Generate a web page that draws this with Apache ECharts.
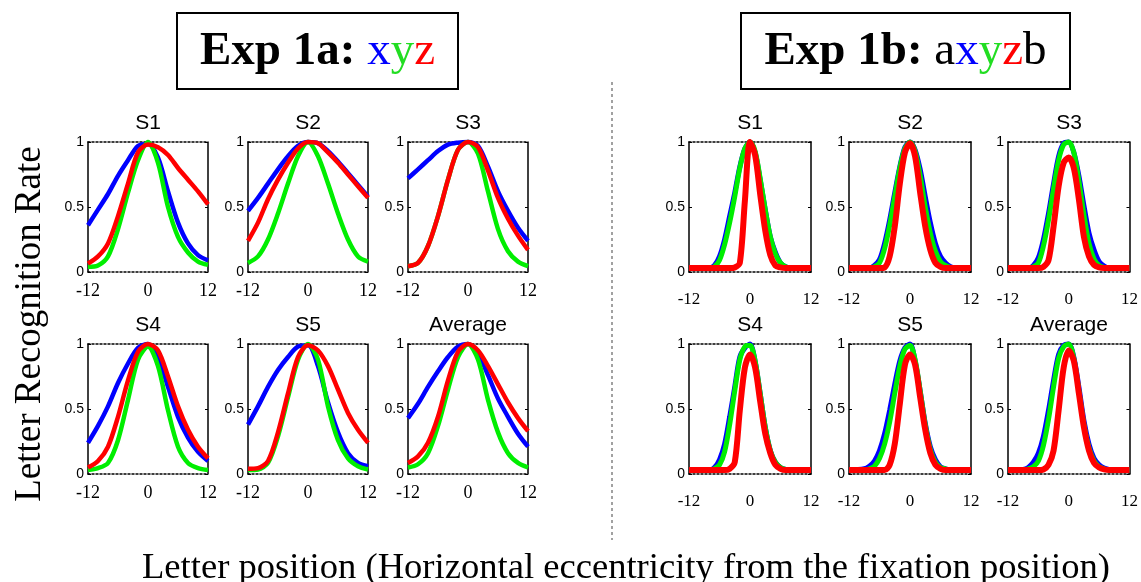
<!DOCTYPE html>
<html>
<head>
<meta charset="utf-8">
<script src="https://cdn.jsdelivr.net/npm/echarts@6/dist/echarts.min.js"></script>
<style>
html,body{margin:0;padding:0;background:#fff}
#chart{width:1141px;height:582px}
</style>
</head>
<body>
<div id="chart"></div>
<script>
// letter positions (eccentricity), sampled
var xA = [-12,-10,-8,-6,-4,-2,0,2,4,6,8,10,12];
var xB = [-12,-9,-8,-7,-6,-5,-4,-3,-2,-1,0,1,2,3,4,5,6,7,8,9,12];
var panelNames = ['S1','S2','S3','S4','S5','Average'];

// Exp 1a: x (blue), y (green), z (red)
var a_S1_blue  = [0.36,0.48,0.60,0.74,0.86,0.97,0.985,0.88,0.62,0.38,0.22,0.13,0.09];
var a_S1_green = [0.04,0.05,0.12,0.33,0.61,0.86,1.00,0.84,0.50,0.27,0.15,0.08,0.055];
var a_S1_red   = [0.065,0.12,0.22,0.43,0.68,0.92,0.98,0.96,0.90,0.80,0.71,0.62,0.52];
var a_S2_blue  = [0.47,0.57,0.68,0.79,0.89,0.97,1.00,0.99,0.93,0.85,0.76,0.67,0.58];
var a_S2_green = [0.07,0.12,0.25,0.45,0.68,0.89,1.00,0.89,0.68,0.45,0.25,0.12,0.08];
var a_S2_red   = [0.24,0.38,0.56,0.71,0.84,0.95,1.00,0.99,0.92,0.84,0.75,0.66,0.57];
var a_S3_blue  = [0.72,0.79,0.86,0.93,0.98,0.995,1.00,0.97,0.81,0.62,0.47,0.34,0.24];
var a_S3_green = [0.045,0.07,0.20,0.43,0.71,0.94,1.00,0.91,0.62,0.33,0.16,0.08,0.045];
var a_S3_red   = [0.045,0.07,0.20,0.43,0.71,0.94,1.00,0.96,0.78,0.57,0.41,0.28,0.17];
var a_S4_blue  = [0.24,0.37,0.52,0.70,0.85,0.97,1.00,0.90,0.67,0.44,0.28,0.17,0.10];
var a_S4_green = [0.03,0.045,0.085,0.26,0.57,0.88,0.98,0.83,0.49,0.21,0.085,0.045,0.03];
var a_S4_red   = [0.05,0.10,0.21,0.44,0.72,0.94,1.00,0.95,0.75,0.52,0.34,0.21,0.12];
var a_S5_blue  = [0.38,0.52,0.67,0.80,0.90,0.98,0.99,0.83,0.55,0.32,0.16,0.085,0.06];
var a_S5_green = [0.03,0.035,0.085,0.29,0.59,0.88,1.00,0.88,0.52,0.26,0.12,0.06,0.035];
var a_S5_red   = [0.04,0.045,0.10,0.32,0.62,0.90,0.99,0.95,0.83,0.65,0.47,0.34,0.24];
var a_Avg_blue  = [0.43,0.54,0.67,0.79,0.90,0.98,1.00,0.93,0.76,0.58,0.44,0.31,0.21];
var a_Avg_green = [0.05,0.075,0.16,0.37,0.65,0.90,1.00,0.88,0.57,0.32,0.16,0.085,0.05];
var a_Avg_red   = [0.085,0.135,0.24,0.44,0.72,0.94,1.00,0.95,0.83,0.69,0.55,0.43,0.33];

// Exp 1b: x (blue), y (green), z (red) inside a_b
var b_S1_blue  = [0.03,0.03,0.03,0.05,0.12,0.25,0.43,0.61,0.81,0.95,1.00,0.92,0.71,0.48,0.27,0.15,0.07,0.04,0.03,0.03,0.03];
var b_S1_green = [0.03,0.03,0.03,0.04,0.09,0.21,0.38,0.58,0.80,0.95,1.00,0.93,0.72,0.48,0.27,0.14,0.07,0.04,0.03,0.03,0.03];
var b_S1_red   = [0.03,0.03,0.03,0.03,0.03,0.03,0.03,0.035,0.07,0.55,1.00,0.90,0.60,0.32,0.13,0.05,0.035,0.03,0.03,0.03,0.03];
var b_S2_blue  = [0.03,0.03,0.03,0.05,0.095,0.22,0.40,0.61,0.81,0.96,1.00,0.94,0.79,0.58,0.38,0.22,0.12,0.07,0.04,0.03,0.03];
var b_S2_green = [0.03,0.03,0.03,0.04,0.07,0.18,0.36,0.58,0.80,0.95,1.00,0.93,0.74,0.50,0.30,0.16,0.08,0.05,0.035,0.03,0.03];
var b_S2_red   = [0.03,0.03,0.03,0.03,0.03,0.035,0.12,0.35,0.68,0.92,0.99,0.89,0.61,0.35,0.17,0.07,0.04,0.03,0.03,0.03,0.03];
var b_S3_blue  = [0.03,0.03,0.03,0.05,0.11,0.25,0.45,0.68,0.89,0.99,1.00,0.92,0.74,0.51,0.30,0.17,0.08,0.045,0.03,0.03,0.03];
var b_S3_green = [0.03,0.03,0.03,0.04,0.07,0.20,0.40,0.64,0.86,0.98,1.00,0.92,0.70,0.44,0.22,0.10,0.05,0.035,0.03,0.03,0.03];
var b_S3_red   = [0.03,0.03,0.03,0.03,0.03,0.04,0.09,0.35,0.66,0.84,0.88,0.80,0.56,0.27,0.12,0.055,0.035,0.03,0.03,0.03,0.03];
var b_S4_blue  = [0.03,0.03,0.03,0.05,0.11,0.23,0.44,0.67,0.90,0.97,1.00,0.87,0.62,0.36,0.18,0.09,0.05,0.035,0.03,0.03,0.03];
var b_S4_green = [0.03,0.03,0.03,0.04,0.07,0.17,0.38,0.64,0.88,0.98,0.99,0.87,0.62,0.36,0.18,0.09,0.05,0.035,0.03,0.03,0.03];
var b_S4_red   = [0.03,0.03,0.03,0.03,0.03,0.03,0.04,0.09,0.49,0.82,0.92,0.82,0.56,0.31,0.16,0.07,0.04,0.03,0.03,0.03,0.03];
var b_S5_blue  = [0.03,0.04,0.06,0.10,0.18,0.31,0.49,0.69,0.87,0.97,1.00,0.87,0.64,0.39,0.21,0.11,0.055,0.04,0.03,0.03,0.03];
var b_S5_green = [0.03,0.03,0.04,0.06,0.12,0.23,0.40,0.62,0.83,0.96,0.99,0.88,0.64,0.38,0.19,0.09,0.05,0.04,0.03,0.03,0.03];
var b_S5_red   = [0.03,0.03,0.03,0.03,0.03,0.03,0.07,0.23,0.54,0.84,0.92,0.84,0.59,0.34,0.16,0.07,0.04,0.03,0.03,0.03,0.03];
var b_Avg_blue  = [0.03,0.035,0.05,0.09,0.16,0.29,0.49,0.72,0.92,0.99,1.00,0.90,0.67,0.41,0.23,0.12,0.07,0.045,0.035,0.03,0.03];
var b_Avg_green = [0.03,0.03,0.04,0.055,0.10,0.22,0.42,0.67,0.89,0.98,1.00,0.89,0.64,0.38,0.20,0.10,0.055,0.04,0.03,0.03,0.03];
var b_Avg_red   = [0.03,0.03,0.03,0.03,0.03,0.035,0.07,0.18,0.49,0.82,0.95,0.87,0.62,0.36,0.18,0.085,0.05,0.035,0.03,0.03,0.03];

var expA = [[a_S1_blue,a_S1_green,a_S1_red],[a_S2_blue,a_S2_green,a_S2_red],[a_S3_blue,a_S3_green,a_S3_red],
            [a_S4_blue,a_S4_green,a_S4_red],[a_S5_blue,a_S5_green,a_S5_red],[a_Avg_blue,a_Avg_green,a_Avg_red]];
var expB = [[b_S1_blue,b_S1_green,b_S1_red],[b_S2_blue,b_S2_green,b_S2_red],[b_S3_blue,b_S3_green,b_S3_red],
            [b_S4_blue,b_S4_green,b_S4_red],[b_S5_blue,b_S5_green,b_S5_red],[b_Avg_blue,b_Avg_green,b_Avg_red]];

var colors = ['#0000ff', '#00ee00', '#ff0000'];
var SERIF = '"Liberation Serif", "Times New Roman", serif';
var SANS = '"Liberation Sans", Arial, sans-serif';

var chart = echarts.init(document.getElementById('chart'));

var grids = [], xAxes = [], yAxes = [], series = [], graphics = [];
var rowTop = [142, 344], gridH = 130;

function pairs(xs, ys) {
  return xs.map(function (x, i) { return [x, ys[i]]; });
}

function addPanel(left, top, width, name, xs, lines, lw, lblMargin, xFont) {
  var gi = grids.length;
  grids.push({left: left, top: top, width: width, height: gridH, containLabel: false});
  var dotted = {show: true, onZero: false, lineStyle: {color: '#000', width: 1.5, type: [2, 2]}};
  var solid = {show: true, onZero: false, lineStyle: {color: '#000', width: 1.5}};
  var tick = {show: true, inside: true, length: 3, lineStyle: {color: '#000'}};
  xAxes.push({type: 'value', gridIndex: gi, min: -12, max: 12, interval: 12, position: 'bottom',
    axisLine: dotted, axisTick: {show: false}, splitLine: {show: false},
    axisLabel: {color: '#000', fontFamily: SERIF, fontSize: xFont, margin: lblMargin}});
  xAxes.push({type: 'value', gridIndex: gi, min: -12, max: 12, interval: 12, position: 'top',
    axisLine: dotted, axisTick: {show: false}, splitLine: {show: false}, axisLabel: {show: false}});
  yAxes.push({type: 'value', gridIndex: gi, min: 0, max: 1, interval: 0.5, position: 'left',
    axisLine: solid, axisTick: tick, splitLine: {show: false},
    axisLabel: {color: '#000', fontFamily: SANS, fontSize: 14, margin: 4,
      formatter: function (v) { return String(v); }}});
  yAxes.push({type: 'value', gridIndex: gi, min: 0, max: 1, interval: 0.5, position: 'right',
    axisLine: solid, axisTick: tick, splitLine: {show: false}, axisLabel: {show: false}});
  lines.forEach(function (ys, k) {
    series.push({type: 'line', xAxisIndex: gi * 2, yAxisIndex: gi * 2, data: pairs(xs, ys),
      smooth: 0.3, symbol: 'none', clip: false, silent: true, animation: false,
      lineStyle: {color: colors[k], width: (k === 2 && lw > 4.5) ? lw + 1 : lw}, z: 2 + k});
  });
  graphics.push({type: 'text', x: left + width / 2, y: top - 19,
    style: {text: name, fontFamily: SANS, fontSize: 21, fill: '#000', align: 'center', verticalAlign: 'middle'}});
}

var colA = [88, 248, 408], colB = [689, 849, 1008];
for (var i = 0; i < 6; i++) {
  var r = Math.floor(i / 3), c = i % 3;
  addPanel(colA[c], rowTop[r], 120, panelNames[i], xA, expA[i], 4.5, 10, 18);
}
for (var j = 0; j < 6; j++) {
  var r2 = Math.floor(j / 3), c2 = j % 3;
  addPanel(colB[c2], rowTop[r2], 122, panelNames[j], xB, expB[j], 5, 19, 17);
}

var richTitle = {
  b: {fontFamily: SERIF, fontSize: 47, fontWeight: 'bold', fill: '#000'},
  k: {fontFamily: SERIF, fontSize: 47, fill: '#000'},
  x: {fontFamily: SERIF, fontSize: 47, fill: '#0000ff'},
  y: {fontFamily: SERIF, fontSize: 47, fill: '#22dd22'},
  z: {fontFamily: SERIF, fontSize: 47, fill: '#ff0000'}
};

graphics.push(
  {type: 'rect', shape: {x: 177, y: 13, width: 281, height: 76},
    style: {fill: '#fff', stroke: '#000', lineWidth: 2}},
  {type: 'text', x: 317.5, y: 52,
    style: {text: '{b|Exp 1a: }{x|x}{y|y}{z|z}', rich: richTitle, align: 'center', verticalAlign: 'middle'}},
  {type: 'rect', shape: {x: 741, y: 13, width: 329, height: 76},
    style: {fill: '#fff', stroke: '#000', lineWidth: 2}},
  {type: 'text', x: 905.5, y: 52,
    style: {text: '{b|Exp 1b: }{k|a}{x|x}{y|y}{z|z}{k|b}', rich: richTitle, align: 'center', verticalAlign: 'middle'}},
  {type: 'line', shape: {x1: 612, y1: 82, x2: 612, y2: 540},
    style: {stroke: '#444', lineWidth: 1, lineDash: [3, 3]}},
  {type: 'text', x: 30, y: 324, rotation: Math.PI / 2,
    style: {text: 'Letter Recognition Rate', fontFamily: SERIF, fontSize: 37, fill: '#000', align: 'center', verticalAlign: 'middle'}},
  {type: 'text', x: 626, y: 568,
    style: {text: 'Letter position (Horizontal eccentricity from the fixation position)', fontFamily: SERIF, fontSize: 36.6, fill: '#000', align: 'center', verticalAlign: 'middle'}}
);

chart.setOption({
  animation: false,
  grid: grids,
  xAxis: xAxes,
  yAxis: yAxes,
  series: series,
  graphic: graphics
});
</script>
</body>
</html>
